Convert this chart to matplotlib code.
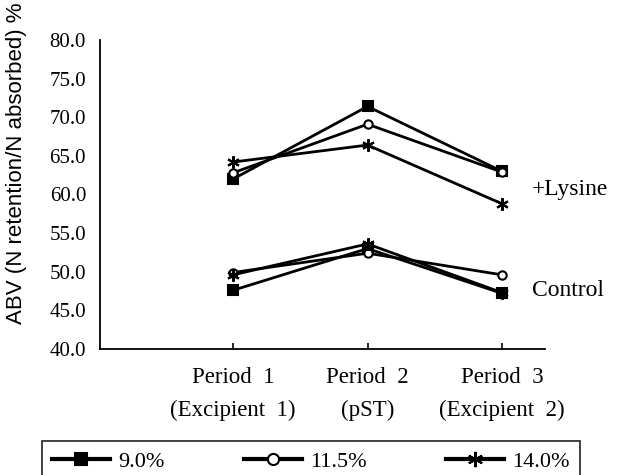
import matplotlib
matplotlib.use("Agg")
import matplotlib.pyplot as plt
from matplotlib.lines import Line2D

periods = ["Period  1\n(Excipient  1)", "Period  2\n(pST)", "Period  3\n(Excipient  2)"]
levels = ["9.0%", "11.5%", "14.0%"]
lysine_9 = [62.0, 71.4, 63.0]
lysine_115 = [62.8, 69.1, 62.9]
lysine_14 = [64.2, 66.4, 58.8]
control_9 = [47.6, 53.0, 47.2]
control_115 = [49.9, 52.4, 49.6]
control_14 = [49.6, 53.6, 47.3]
yticks = [40, 45, 50, 55, 60, 65, 70, 75, 80]

serif = ["Liberation Serif", "DejaVu Serif"]
sans = ["Liberation Sans", "DejaVu Sans"]

fig = plt.figure(figsize=(6.18, 4.75), dpi=100)
ax = fig.add_axes([100/618, 1-349/475, 445/618, (349-40)/475])

xs = [1, 2, 3]
markers = ["s", "o", (6, 2, 0)]
mfc = ["black", "white", "black"]
msz = [7, 6, 9]
lw = 2.0
for series_group in [(lysine_9, lysine_115, lysine_14), (control_9, control_115, control_14)]:
    for vals, m, fc, ms in zip(series_group, markers, mfc, msz):
        ax.plot(xs, vals, color="black", lw=lw, marker=m, markerfacecolor=fc,
                markeredgecolor="black", markersize=ms, markeredgewidth=1.5, clip_on=False)

ax.set_xlim(1 - 133/134.5, 3 + 43/134.5)
ax.set_ylim(40, 80)
ax.set_yticks(yticks)
ax.set_yticklabels([f"{v:.1f}" for v in yticks], fontfamily=serif, fontsize=15)
ax.set_yticks([50, 60, 70, 80], minor=True)
ax.tick_params(axis="y", which="major", length=0, pad=10)
ax.tick_params(axis="y", which="minor", length=4, direction="in", width=1.2)
ax.set_xticks(xs)
ax.set_xticklabels(periods, fontfamily=serif, fontsize=16.5, linespacing=1.75)
ax.tick_params(axis="x", length=4, direction="in", width=1.2, pad=13)
for s in ["top", "right"]:
    ax.spines[s].set_visible(False)
for s in ["left", "bottom"]:
    ax.spines[s].set_linewidth(1.3)

ax.set_ylabel("ABV (N retention/N absorbed) %", fontfamily=sans, fontsize=16)
ax.yaxis.set_label_coords(-0.163, 0.60)

ax.text(3.223, 60.6, "+Lysine", fontfamily=serif, fontsize=17, va="center", ha="left")
ax.text(3.223, 47.6, "Control", fontfamily=serif, fontsize=17, va="center", ha="left")

handles = [Line2D([], [], color="black", lw=3, marker=m, markerfacecolor=fc,
                  markeredgecolor="black", markersize=ms+2, markeredgewidth=1.5)
           for m, fc, ms in zip(markers, mfc, msz)]
leg = fig.legend(handles, levels, loc="upper left",
                 bbox_to_anchor=(42/618, 1-441/475, 538/618, 0.0), mode="expand",
                 ncol=3, frameon=True, fancybox=False, edgecolor="black",
                 prop={"family": serif, "size": 16}, handlelength=2.6,
                 borderaxespad=0, borderpad=0.45, handletextpad=0.4)
leg.get_frame().set_linewidth(1.3)

fig.savefig("out.png", dpi=100)
